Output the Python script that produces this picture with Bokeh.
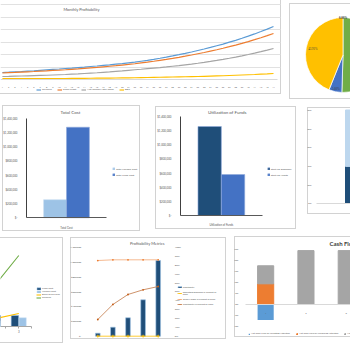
import math
from bokeh.plotting import figure
from bokeh.models import (Range1d, Legend, LegendItem, Label, LinearAxis,
                          FixedTicker, NumeralTickFormatter, Spacer, ColumnDataSource, Grid)
from bokeh.layouts import row, column
from bokeh.transform import dodge
from bokeh.embed import file_html
from bokeh.resources import INLINE

FONT = "Lato"
TXT = "#595959"
EDGE = "#d2d2d2"

# ---------------- data ----------------
# Monthly Profitability ($ thousands)
month_labels = [str(i) for i in range(1, 45)]
revenue = [112, 117, 123, 128, 134, 140, 147, 154, 161, 168, 176,
           183, 191, 199, 208, 216, 226, 235, 245, 255, 266, 277,
           292, 307, 323, 340, 358, 377, 397, 418, 440, 464,
           488, 513, 540, 567, 597, 627, 660, 694, 729, 767, 806, 848]
gross_profit = [104, 109, 113, 118, 123, 128, 134, 139, 145, 150, 156,
                163, 170, 178, 186, 194, 203, 212, 221, 231, 241, 252,
                265, 278, 292, 307, 322, 338, 355, 373, 392, 412,
                432, 454, 476, 500, 525, 551, 578, 607, 637, 668, 701, 736]
net_income = [48, 50, 53, 56, 59, 62, 65, 68, 72, 76, 80,
              85, 90, 96, 102, 108, 115, 122, 130, 138, 147, 156,
              164, 173, 182, 191, 201, 212, 223, 235, 247, 260,
              274, 289, 305, 322, 340, 359, 379, 400, 422, 445, 470, 496]
ebit = [16, 15, 15, 14, 14, 14, 15, 15, 15, 16, 16,
        17, 18, 19, 20, 21, 22, 23, 24, 25, 26, 28,
        30, 32, 34, 36, 38, 40, 42, 44, 46, 48,
        51, 54, 57, 60, 64, 68, 72, 76, 80, 85, 90, 96]

# Pie (percent)
pie_names = ["Other", "Owner Investment", "Loans", "Investors"]
pie_shares = [0.0, 50.49, 5.60, 43.91]

# Total Cost
tc_cat = ["Total Cost"]
tc_variable = [256000]
tc_fixed = [1277000]

# Utilization of Funds
uf_cat = ["Utilization of Funds"]
uf_expenses = [1262000]
uf_assets = [581000]

# 100% stacked share
sh_cat = [1]
sh_dark = [0.395]
sh_light = [0.605]

# Break-even chart ($ thousands)
be_cat = [1, 2, 3]
be_fixed = [110, 110, 110]
be_variable = [29, 58, 87]
be_sales = [18, 74, 130]
be_revenue = [70, 390, 710]

# Profitability Metrics
pm_years = ["Year 1", "Year 2", "Year 3", "Year 4", "Year 5"]
pm_profit = [41000, 122000, 250000, 494000, 1028000]
pm_opex_pct = [0.0, 0.0, 0.0, 0.0, 0.0]
pm_gross_pct = [0.856, 0.864, 0.864, 0.864, 0.864]
pm_profit_pct = [0.189, 0.359, 0.472, 0.525, 0.562]

# Cash Flow
cf_period = [1, 2, 3]
cf_investing = [-0.07, 0.0, 0.0]
cf_financing = [0.094, 0.0, 0.0]
cf_operating = [0.082, 0.245, 0.245]


# ---------------- helpers ----------------
def xr(pa, va, pb, vb, size):
    """range whose value va sits at pixel pa and vb at pixel pb (from left)."""
    k = (vb - va) / (pb - pa)
    s = va - pa * k
    return Range1d(s, s + size * k)


def yr(pa, va, pb, vb, size):
    """range whose value va sits at pixel pa and vb at pixel pb (from top)."""
    return xr(size - pa, va, size - pb, vb, size)


def panel(w, h, sides, **kw):
    p = figure(width=w, height=h, output_backend="svg", toolbar_location=None, **kw)
    p.min_border_left = 0
    p.min_border_right = 0
    p.min_border_top = 0
    p.min_border_bottom = 0
    p.border_fill_color = None
    p.background_fill_color = None
    p.outline_line_color = None
    p.grid.visible = False
    sh = []
    if "l" in sides:
        sh.append(f"inset 1px 0 0 0 {EDGE}")
    if "r" in sides:
        sh.append(f"inset -1px 0 0 0 {EDGE}")
    if "t" in sides:
        sh.append(f"inset 0 1px 0 0 {EDGE}")
    if "b" in sides:
        sh.append(f"inset 0 -1px 0 0 {EDGE}")
    p.styles = {"background-color": "white", "box-shadow": ", ".join(sh) if sh else "none"}
    return p


def style_axis(ax, size="3px", line=None, standoff=2):
    ax.major_label_text_font = FONT
    ax.major_label_text_font_size = size
    ax.major_label_text_color = TXT
    ax.major_tick_line_color = None
    ax.minor_tick_line_color = None
    ax.axis_line_color = line
    ax.major_label_standoff = standoff


def make_legend(items, loc, orientation="vertical", size="3px", gw=3, gh=3, spacing=1):
    return Legend(items=items, location=loc, orientation=orientation,
                  label_text_font=FONT, label_text_font_size=size, label_text_color=TXT,
                  glyph_width=int(gw), glyph_height=int(gh), label_height=int(gh), label_width=0,
                  label_standoff=1, spacing=int(spacing), padding=0, margin=0,
                  border_line_color=None, background_fill_alpha=0)


def add_label(p, x, y_from_top, text, size="4.5px", bold=False, align="center", color=TXT):
    p.add_layout(Label(x=x, y=p.height - y_from_top, x_units="screen", y_units="screen", text=text,
                       text_font=FONT, text_font_size=size, text_color=color,
                       text_align=align, text_baseline="middle",
                       text_font_style="bold" if bold else "normal"))


# ---------------- 1: Monthly Profitability ----------------
xm = list(range(1, len(month_labels) + 1))
p1 = panel(281, 94, "rb", x_range=xr(1.9, 1, 273, 44, 281), y_range=yr(79, 0, 66.5, 200, 94),
           y_axis_location=None)
p1.add_layout(Grid(dimension=1, ticker=FixedTicker(ticks=[200, 400, 600, 800, 1000, 1200]),
                   grid_line_color="#d9d9d9", grid_line_width=0.8, bounds=(0.7, 44.6)))
ax1 = p1.xaxis[0]
ax1.fixed_location = 0
ax1.bounds = (0.7, 44.6)
ax1.ticker = FixedTicker(ticks=xm)
ax1.major_label_overrides = {x: lab for x, lab in zip(xm, month_labels)}
style_axis(ax1, "2.2px", "#d9d9d9", 1)
r_rev = p1.line(xm, revenue, line_color="#5b9bd5", line_width=1.2)
r_gp = p1.line(xm, gross_profit, line_color="#ed7d31", line_width=1.2)
r_ni = p1.line(xm, net_income, line_color="#a5a5a5", line_width=1.2)
r_eb = p1.line(xm, ebit, line_color="#ffc000", line_width=1.2)
p1.add_layout(make_legend([LegendItem(label="Revenue", renderers=[r_rev]),
                           LegendItem(label="Gross Profit", renderers=[r_gp]),
                           LegendItem(label="Net Income After Taxes", renderers=[r_ni]),
                           LegendItem(label="EBIT", renderers=[r_eb])],
                          (36, 3), orientation="horizontal", size="2.6px", gw=5, gh=3, spacing=5))
add_label(p1, 81, 9, "Monthly Profitability", size="4px")

# ---------------- 2: Pie ----------------
p2 = panel(61, 96, "ltb", x_range=Range1d(0, 61), y_range=Range1d(0, 96),
           x_axis_location=None, y_axis_location=None)
pie_cols = ["#5b9bd5", "#70ad47", "#4472c4", "#ffc000"]
cx, cy, R = 53.5, 44.5, 37.5
tot = sum(pie_shares)
acc = 0.0
ws, we, wc, lx, ly, lt, lb = [], [], [], [], [], [], []
kpos = [1.0, 0.7, 0.92, 0.82]
for s, c, k in zip(pie_shares, pie_cols, kpos):
    a0 = math.pi / 2 - 2 * math.pi * acc / tot
    acc += s
    a1 = math.pi / 2 - 2 * math.pi * acc / tot
    if s > 0:
        ws.append(a0); we.append(a1); wc.append(c)
    mid = (a0 + a1) / 2
    tx = cx + k * R * math.cos(mid)
    if tx < 55:  # labels that fall inside the visible part of the panel
        lx.append(tx)
        ly.append(cy + k * R * math.sin(mid))
        lt.append(f"{s:.2f}%")
        lb.append(s == 0)
p2.wedge(x=cx, y=cy, radius=R, start_angle=ws, end_angle=we, direction="clock",
         fill_color=wc, line_color="white", line_width=0.7)
for x, y, t, b in zip(lx, ly, lt, lb):
    p2.text(x=[x], y=[y], text=[t], text_font_size="3px",
            text_color="#262626" if b else "#404040",
            text_font_style="bold" if b else "normal",
            text_align="center", text_baseline="middle", text_font="Lato")


# ---------------- 3 / 4: single-category clustered bars ----------------
def cluster_panel(w, h, cat, vals, names, fills, lines, ax_x, right_x, base_y, top_y,
                  leg_x, leg_bottom, title, title_xy):
    p = panel(w, h, "ltrb", x_range=xr(ax_x, 0.5, right_x, 1.5, w),
              y_range=yr(base_y, 0, top_y, 1400000, h))
    src = ColumnDataSource(dict(x=[1], a=vals[0], b=vals[1]))
    ra = p.vbar(x=dodge("x", -0.143), top="a", width=0.286, source=src,
                fill_color=fills[0], line_color=lines[0], line_width=0.6)
    rb = p.vbar(x=dodge("x", 0.143), top="b", width=0.286, source=src,
                fill_color=fills[1], line_color=lines[1], line_width=0.6)
    ya = p.yaxis[0]
    ya.fixed_location = 0.5
    ya.bounds = (0, 1400000)
    ya.ticker = FixedTicker(ticks=[0, 200000, 400000, 600000, 800000, 1000000, 1200000, 1400000])
    ya.formatter = NumeralTickFormatter(format="$0,0")
    ya.major_label_overrides = {0: "$-"}
    style_axis(ya, "2.8px", "#404040", 3)
    xa = p.xaxis[0]
    xa.fixed_location = 0
    xa.bounds = (0.5, 1.5)
    xa.ticker = FixedTicker(ticks=[1])
    xa.major_label_overrides = {1: cat[0]}
    style_axis(xa, "2.8px", "#595959", 2)
    p.add_layout(make_legend([LegendItem(label=names[0], renderers=[ra]),
                              LegendItem(label=names[1], renderers=[rb])],
                             (leg_x, h - leg_bottom), size="2.6px", gw=3, gh=3, spacing=2))
    add_label(p, title_xy[0], title_xy[1], title, size="4.5px")
    return p


p3 = cluster_panel(138, 126, tc_cat, [tc_variable, tc_fixed],
                   ["Total Variable Cost", "Total Fixed Cost"],
                   ["#9dc3e6", "#4472c4"], ["#c9def2", "#8faadc"],
                   24, 104, 112.3, 13, 110, 71.5, "Total Cost", (68, 6.7))
p4 = cluster_panel(141, 123, uf_cat, [uf_expenses, uf_assets],
                   ["Start-up Expenses", "Start-up Assets"],
                   ["#1f4e79", "#4472c4"], ["#8faadc", "#8faadc"],
                   25, 106.7, 109, 10.3, 111.7, 70.5, "Utilization of Funds", (71.7, 6.3))

# ---------------- 5: 100% stacked ----------------
p5 = panel(43, 107, "ltb", x_range=xr(38, 0.75, 6, -0.25, 43), y_range=yr(95.7, 0, 2.5, 1, 107))
s5 = ColumnDataSource(dict(x=sh_cat, dark=sh_dark, light=sh_light))
p5.vbar_stack(["dark", "light"], x="x", width=0.5, color=["#1f4e79", "#bdd7ee"], source=s5)
ya5 = p5.yaxis[0]
ya5.fixed_location = -0.094
ya5.ticker = FixedTicker(ticks=[0, 0.2, 0.4, 0.6, 0.8, 1.0])
ya5.formatter = NumeralTickFormatter(format="0%")
style_axis(ya5, "2.3px", None, 1)
xa5 = p5.xaxis[0]
xa5.fixed_location = 0
xa5.bounds = (-0.156, 2)
xa5.ticker = FixedTicker(ticks=[])
style_axis(xa5, "2.3px", "#d9d9d9", 1)

# ---------------- 6: Break-even ----------------
p6 = panel(63, 106, "trb", x_range=xr(18.3, 3, 44, 4, 63), y_range=yr(89, 0, 8, 810, 106),
           y_axis_location=None)
s6 = ColumnDataSource(dict(x=be_cat, fixed=be_fixed, var=be_variable, sales=be_sales, rev=be_revenue))
r6a = p6.vbar(x=dodge("x", -0.15), top="fixed", width=0.29, source=s6,
              fill_color="#1f4e79", line_color="#9dc3e6", line_width=0.5)
r6b = p6.vbar(x=dodge("x", 0.15), top="var", width=0.28, source=s6,
              fill_color="#9dc3e6", line_color="#c9def2", line_width=0.5)
r6c = p6.line("x", "sales", source=s6, line_color="#ffc000", line_width=1.1)
r6d = p6.line("x", "rev", source=s6, line_color="#70ad47", line_width=1.1)
xa6 = p6.xaxis[0]
xa6.fixed_location = 0
xa6.bounds = (2.0, 3.5)
xa6.ticker = FixedTicker(ticks=[2.5, 3, 3.5])
xa6.major_label_overrides = {2.5: "", 3: "3", 3.5: ""}
style_axis(xa6, "2.8px", "#a6a6a6", 1)
xa6.major_tick_line_color = "#a6a6a6"
xa6.major_tick_out = 2
xa6.major_tick_in = 0
p6.add_layout(make_legend([LegendItem(label="Fixed Cost", renderers=[r6a]),
                           LegendItem(label="Variable Cost", renderers=[r6b]),
                           LegendItem(label="Break Even Sales", renderers=[r6c]),
                           LegendItem(label="Revenue", renderers=[r6d])],
                          (36, 106 - 61.5), size="2.4px", gw=5, gh=3, spacing=0))

# ---------------- 7: Profitability Metrics ----------------
pm_x = list(range(1, len(pm_years) + 1))
p7 = panel(156, 102, "ltrb", x_range=xr(27.3, 1, 87.7, 5, 156),
           y_range=yr(98.7, 0, 10.3, 1200000, 102))
p7.extra_y_ranges = {"pct": yr(98.7, 0, 10.3, 1, 102)}
ya7 = p7.yaxis[0]
ya7.fixed_location = 0.5
ya7.ticker = FixedTicker(ticks=[0, 200000, 400000, 600000, 800000, 1000000, 1200000])
ya7.formatter = NumeralTickFormatter(format="$0,0")
ya7.major_label_overrides = {0: "$-"}
style_axis(ya7, "2.4px", None, 3)
p7.xaxis[0].visible = False
ra7 = LinearAxis(y_range_name="pct", ticker=FixedTicker(ticks=[i / 10 for i in range(11)]),
                 formatter=NumeralTickFormatter(format="0%"), fixed_location=5.5)
style_axis(ra7, "2.5px", None, 3)
p7.add_layout(ra7, "right")
r7a = p7.vbar(x=pm_x, top=pm_profit, width=0.31, fill_color="#1f4e79",
              line_color="#9dc3e6", line_width=0.6)
r7b = p7.line(pm_x, pm_opex_pct, y_range_name="pct", line_color="#ffc000", line_width=0.8)
r7bm = p7.scatter(pm_x, pm_opex_pct, y_range_name="pct", marker="cross", size=3,
                  line_color="#ffc000", line_width=0.8)
r7c = p7.line(pm_x, pm_gross_pct, y_range_name="pct", line_color="#f4b183", line_width=0.9)
r7cm = p7.scatter(pm_x, pm_gross_pct, y_range_name="pct", marker="circle", size=1.8,
                  fill_color="#ed7d31", line_color=None)
r7d = p7.line(pm_x, pm_profit_pct, y_range_name="pct", line_color="#c8875a", line_width=0.9)
r7dm = p7.scatter(pm_x, pm_profit_pct, y_range_name="pct", marker="circle", size=1.8,
                  fill_color="#c55a11", line_color=None)
p7.add_layout(make_legend([LegendItem(label="Profitability", renderers=[r7a]),
                           LegendItem(label="Operating Expenses in Percent of\nSales", renderers=[r7b, r7bm]),
                           LegendItem(label="Gross Margin in Percent of Sales", renderers=[r7c, r7cm]),
                           LegendItem(label="Profitability in Percent of Sales", renderers=[r7d, r7dm])],
                          (106.7, 102 - 67.5), size="2.3px", gw=5, gh=2, spacing=3))
add_label(p7, 76.7, 5.7, "Profitability Metrics", size="4px")

# ---------------- 8: Cash Flow ----------------
p8 = panel(116, 101, "ltb", x_range=xr(11, 0.5, 51.3, 1.5, 116), y_range=yr(68, 0, 13, 0.25, 101))
s8 = ColumnDataSource(dict(x=cf_period, inv=cf_investing, fin=cf_financing, ops=cf_operating))
r8a = p8.vbar(x="x", top="inv", bottom=0, width=0.4, source=s8, fill_color="#5b9bd5", line_color=None)
r8bc = p8.vbar_stack(["fin", "ops"], x="x", width=0.4, color=["#ed7d31", "#a5a5a5"], source=s8)
ya8 = p8.yaxis[0]
ya8.fixed_location = 0.5
ya8.ticker = FixedTicker(ticks=[-0.10, -0.05, 0, 0.05, 0.10, 0.15, 0.20, 0.25])
ya8.formatter = NumeralTickFormatter(format="0%")
style_axis(ya8, "2.4px", None, 1)
xa8 = p8.xaxis[0]
xa8.fixed_location = 0
xa8.bounds = (0.5, 4)
xa8.ticker = FixedTicker(ticks=cf_period)
style_axis(xa8, "2.4px", "#d9d9d9", 1)
p8.add_layout(make_legend([LegendItem(label="Net Cash Flow by Investing Activities", renderers=[r8a]),
                           LegendItem(label="Net Cash Flow by Financing Activities", renderers=[r8bc[0]]),
                           LegendItem(label="Net Cash Flow by Operating Activities", renderers=[r8bc[1]])],
                          (14, 2), orientation="horizontal", size="2.4px", gw=2, gh=2, spacing=6))
add_label(p8, 95, 6.7, "Cash Flows", size="6px", bold=True, align="left", color="#404040")

# ---------------- layout ----------------
layout = column(
    row(p1, Spacer(width=8, height=1), column(Spacer(width=1, height=3), p2)),
    Spacer(width=1, height=5),
    row(Spacer(width=2, height=1), column(Spacer(width=1, height=1), p3),
        Spacer(width=15, height=1), column(Spacer(width=1, height=2), p4),
        Spacer(width=11, height=1), column(Spacer(width=1, height=3), p5)),
    row(column(Spacer(width=1, height=6), p6), Spacer(width=7, height=1),
        column(Spacer(width=1, height=6), p7), Spacer(width=8, height=1),
        column(Spacer(width=1, height=5), p8)),
)

open("out.html", "w").write(file_html(layout, INLINE))
